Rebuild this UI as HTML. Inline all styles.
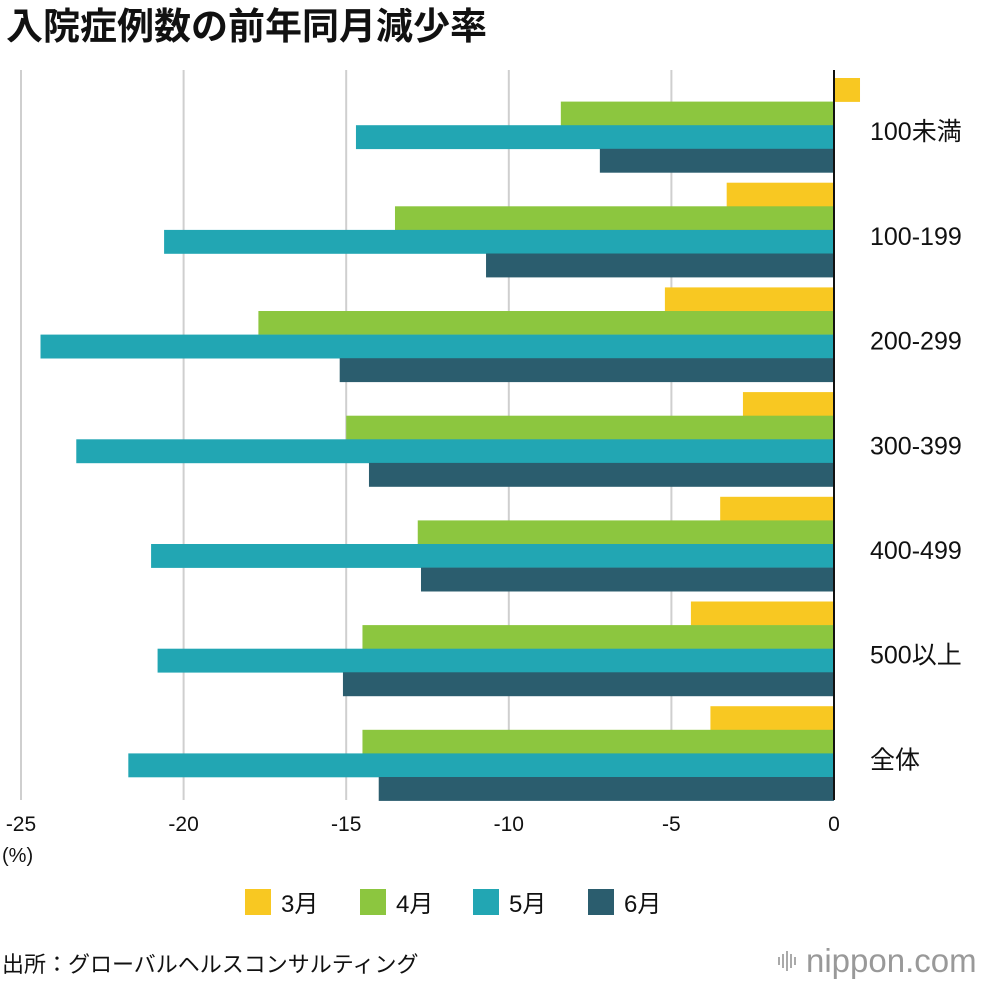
<!DOCTYPE html>
<html><head><meta charset="utf-8"><style>
body{margin:0;background:#fff;width:1000px;height:980px;overflow:hidden;font-family:"Liberation Sans","Noto Sans CJK JP",sans-serif}
svg text{font-family:"Liberation Sans","Noto Sans CJK JP",sans-serif}
</style></head><body>
<svg id="c" width="1000" height="980"></svg>
<script>
const categories=["100未満","100-199","200-299","300-399","400-499","500以上","全体"];
const seriesNames=["3月","4月","5月","6月"];
const march=[0.8,-3.3,-5.2,-2.8,-3.5,-4.4,-3.8];
const april=[-8.4,-13.5,-17.7,-15.0,-12.8,-14.5,-14.5];
const may=[-14.7,-20.6,-24.4,-23.3,-21.0,-20.8,-21.7];
const june=[-7.2,-10.7,-15.2,-14.3,-12.7,-15.1,-14.0];
const ticks=[-25,-20,-15,-10,-5,0];
const colors=["#f8c822","#8cc63f","#22a6b3","#2b5d6e"];
const series=[march,april,may,june];
const NS="http://www.w3.org/2000/svg";
const svg=document.getElementById('c');
const x=v=>834+v*32.52;
const top0=78,groupH=104.7,barH=23.6;
function el(t,a,txt){const e=document.createElementNS(NS,t);for(const k in a)e.setAttribute(k,a[k]);if(txt!==undefined)e.textContent=txt;svg.appendChild(e);return e;}
let t=el('text',{x:6,y:39,'font-size':37,'font-weight':'bold',fill:'#111'},'入院症例数の前年同月減少率');


ticks.forEach(v=>{
  if(v!==0){const g=el('line',{x1:x(v),x2:x(v),y1:70,y2:800,stroke:'#cfcfcf','stroke-width':2});
  
  }
  const l=el('text',{x:x(v),y:831,'font-size':21,'text-anchor':'middle',fill:'#111'},String(v));
  
  
});
t=el('text',{x:2,y:862,'font-size':20,fill:'#111'},'(%)');


categories.forEach((c,i)=>{
  series.forEach((s,j)=>{
    const v=s[i];const y=top0+i*groupH+j*barH;
    const r=el('rect',{x:Math.min(x(v),x(0)),y:y,width:Math.abs(x(v)-x(0)),height:barH+0.3,fill:colors[j]});
    
    
  });
  const l=el('text',{x:870,y:top0+i*groupH+barH*2+15,'font-size':25,fill:'#111'},c);
  
  
});
const z=el('line',{x1:834,x2:834,y1:70,y2:800,stroke:'#111','stroke-width':2});


const lx=[245,360,473,588];
seriesNames.forEach((n,j)=>{
  const r=el('rect',{x:lx[j],y:889,width:26,height:26,fill:colors[j]});
  
  
  const l=el('text',{x:lx[j]+36,y:912,'font-size':24,fill:'#111'},n);
  
  
});
t=el('text',{x:2,y:972,'font-size':22,fill:'#111'},'出所：グローバルヘルスコンサルティング');


[0,1,2,3,4].forEach(k=>{
  const h=[8,14,20,14,8][k];
  const b=el('rect',{x:778+k*4,y:961-h/2,width:2,height:h,fill:'#aaa'});
  
  
});
t=el('text',{x:806,y:972,'font-size':33,fill:'#999'},'nippon.com');


</script>
</body></html>
